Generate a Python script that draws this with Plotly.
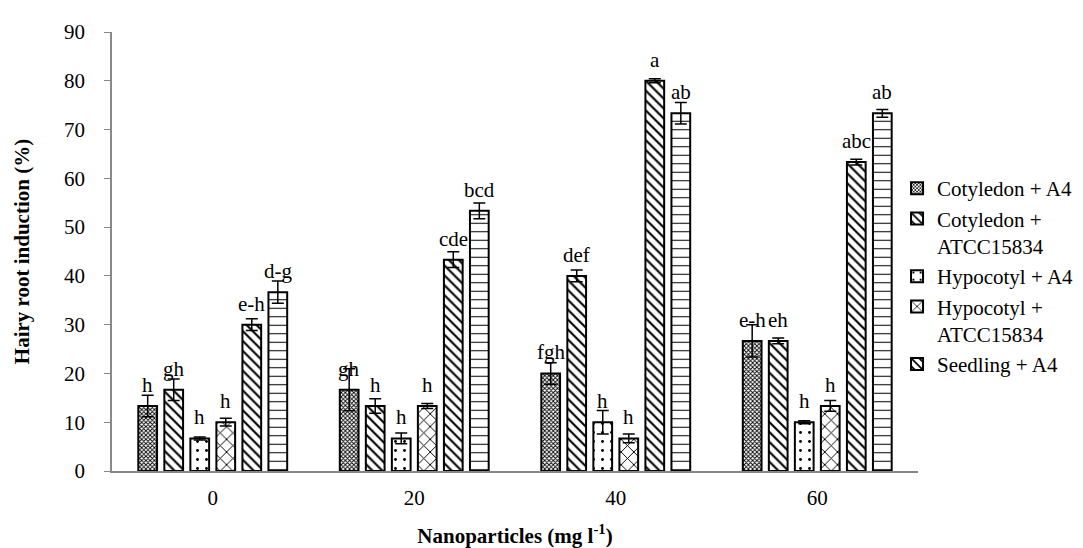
import plotly.graph_objects as go

categories = ["0", "20", "40", "60"]
series_names = ["Cotyledon + A4", "Cotyledon +<br>ATCC15834", "Hypocotyl + A4",
                "Hypocotyl +<br>ATCC15834", "Seedling + A4", "Seedling + ATCC15834"]
show_in_legend = [True, True, True, True, True, False]

cot_a4 = [13.33, 16.67, 20.0, 26.67]
cot_atcc = [16.67, 13.33, 40.0, 26.67]
hyp_a4 = [6.67, 6.67, 10.0, 10.0]
hyp_atcc = [10.0, 13.33, 6.67, 13.33]
seed_a4 = [30.0, 43.33, 80.0, 63.33]
seed_atcc = [36.67, 53.33, 73.33, 73.33]

cot_a4_err = [2.2, 4.3, 2.2, 3.3]
cot_atcc_err = [2.2, 1.5, 1.2, 0.6]
hyp_a4_err = [0.3, 1.1, 2.4, 0.3]
hyp_atcc_err = [0.8, 0.5, 0.9, 1.1]
seed_a4_err = [1.2, 1.6, 0.4, 0.6]
seed_atcc_err = [2.3, 1.6, 2.2, 0.8]

cot_a4_lbl = ["h", "gh", "fgh", "e-h"]
cot_atcc_lbl = ["gh", "h", "def", "eh"]
hyp_a4_lbl = ["h", "h", "h", "h"]
hyp_atcc_lbl = ["h", "h", "h", "h"]
seed_a4_lbl = ["e-h", "cde", "a", "abc"]
seed_atcc_lbl = ["d-g", "bcd", "ab", "ab"]

values = [cot_a4, cot_atcc, hyp_a4, hyp_atcc, seed_a4, seed_atcc]
errors = [cot_a4_err, cot_atcc_err, hyp_a4_err, hyp_atcc_err, seed_a4_err, seed_atcc_err]
labels = [cot_a4_lbl, cot_atcc_lbl, hyp_a4_lbl, hyp_atcc_lbl, seed_a4_lbl, seed_atcc_lbl]

patterns = [
    dict(shape="x", size=3, solidity=0.5),
    dict(shape="\\", size=7, solidity=0.3),
    dict(shape=".", size=9, solidity=0.08),
    dict(shape="x", size=9, solidity=0.2),
    dict(shape="\\", size=7, solidity=0.3),
    dict(shape="-", size=8.5, solidity=0.12),
]

FONT = "Liberation Serif"
BARGAP = 0.225
BARGROUPGAP = 0.28

fig = go.Figure()
for i in range(6):
    pat = dict(fgcolor="black", bgcolor="white", fillmode="replace", **patterns[i])
    fig.add_trace(go.Bar(
        x=categories, y=values[i], name=series_names[i], showlegend=show_in_legend[i],
        marker=dict(color="white", line=dict(color="black", width=2), pattern=pat),
        error_y=dict(type="data", array=errors[i], color="black", thickness=1.5, width=6),
    ))

annotations = []
n = len(values)
for i in range(n):
    off = (i - (n - 1) / 2) * (1 - BARGAP) / n
    for j, c in enumerate(categories):
        annotations.append(dict(
            x=j + off, y=values[i][j], xref="x", yref="y", text=labels[i][j],
            showarrow=False, yanchor="middle", yshift=21,
            font=dict(family=FONT, size=21, color="black")))

fig.update_layout(
    width=1083, height=548,
    margin=dict(l=104, r=163, t=23, b=76),
    paper_bgcolor="white", plot_bgcolor="white",
    barmode="group", bargap=BARGAP, bargroupgap=BARGROUPGAP,
    font=dict(family=FONT, size=21, color="black"),
    annotations=annotations,
    legend=dict(x=0.974, y=0.69, xanchor="left", yanchor="top", valign="top",
                font=dict(family=FONT, size=21, color="black"),
                bgcolor="rgba(0,0,0,0)", itemwidth=30),
    xaxis=dict(
        type="category", showline=True, linecolor="#888888", linewidth=1.5,
        ticks="", showgrid=False, ticklabelstandoff=7,
        tickfont=dict(family=FONT, size=21, color="black"),
        title=dict(text="<b>Nanoparticles (mg l<sup>-1</sup>)</b>", standoff=19,
                   font=dict(family=FONT, size=21, color="black")),
    ),
    yaxis=dict(
        range=[0, 90], dtick=10, showline=True, linecolor="#888888", linewidth=1.5,
        ticks="outside", ticklen=6, tickcolor="#888888", showgrid=False,
        zeroline=False, ticklabelstandoff=15,
        tickfont=dict(family=FONT, size=21, color="black"),
        title=dict(text="<b>Hairy root induction (%)</b>", standoff=29,
                   font=dict(family=FONT, size=21, color="black")),
    ),
)

fig.write_html("out.html")
